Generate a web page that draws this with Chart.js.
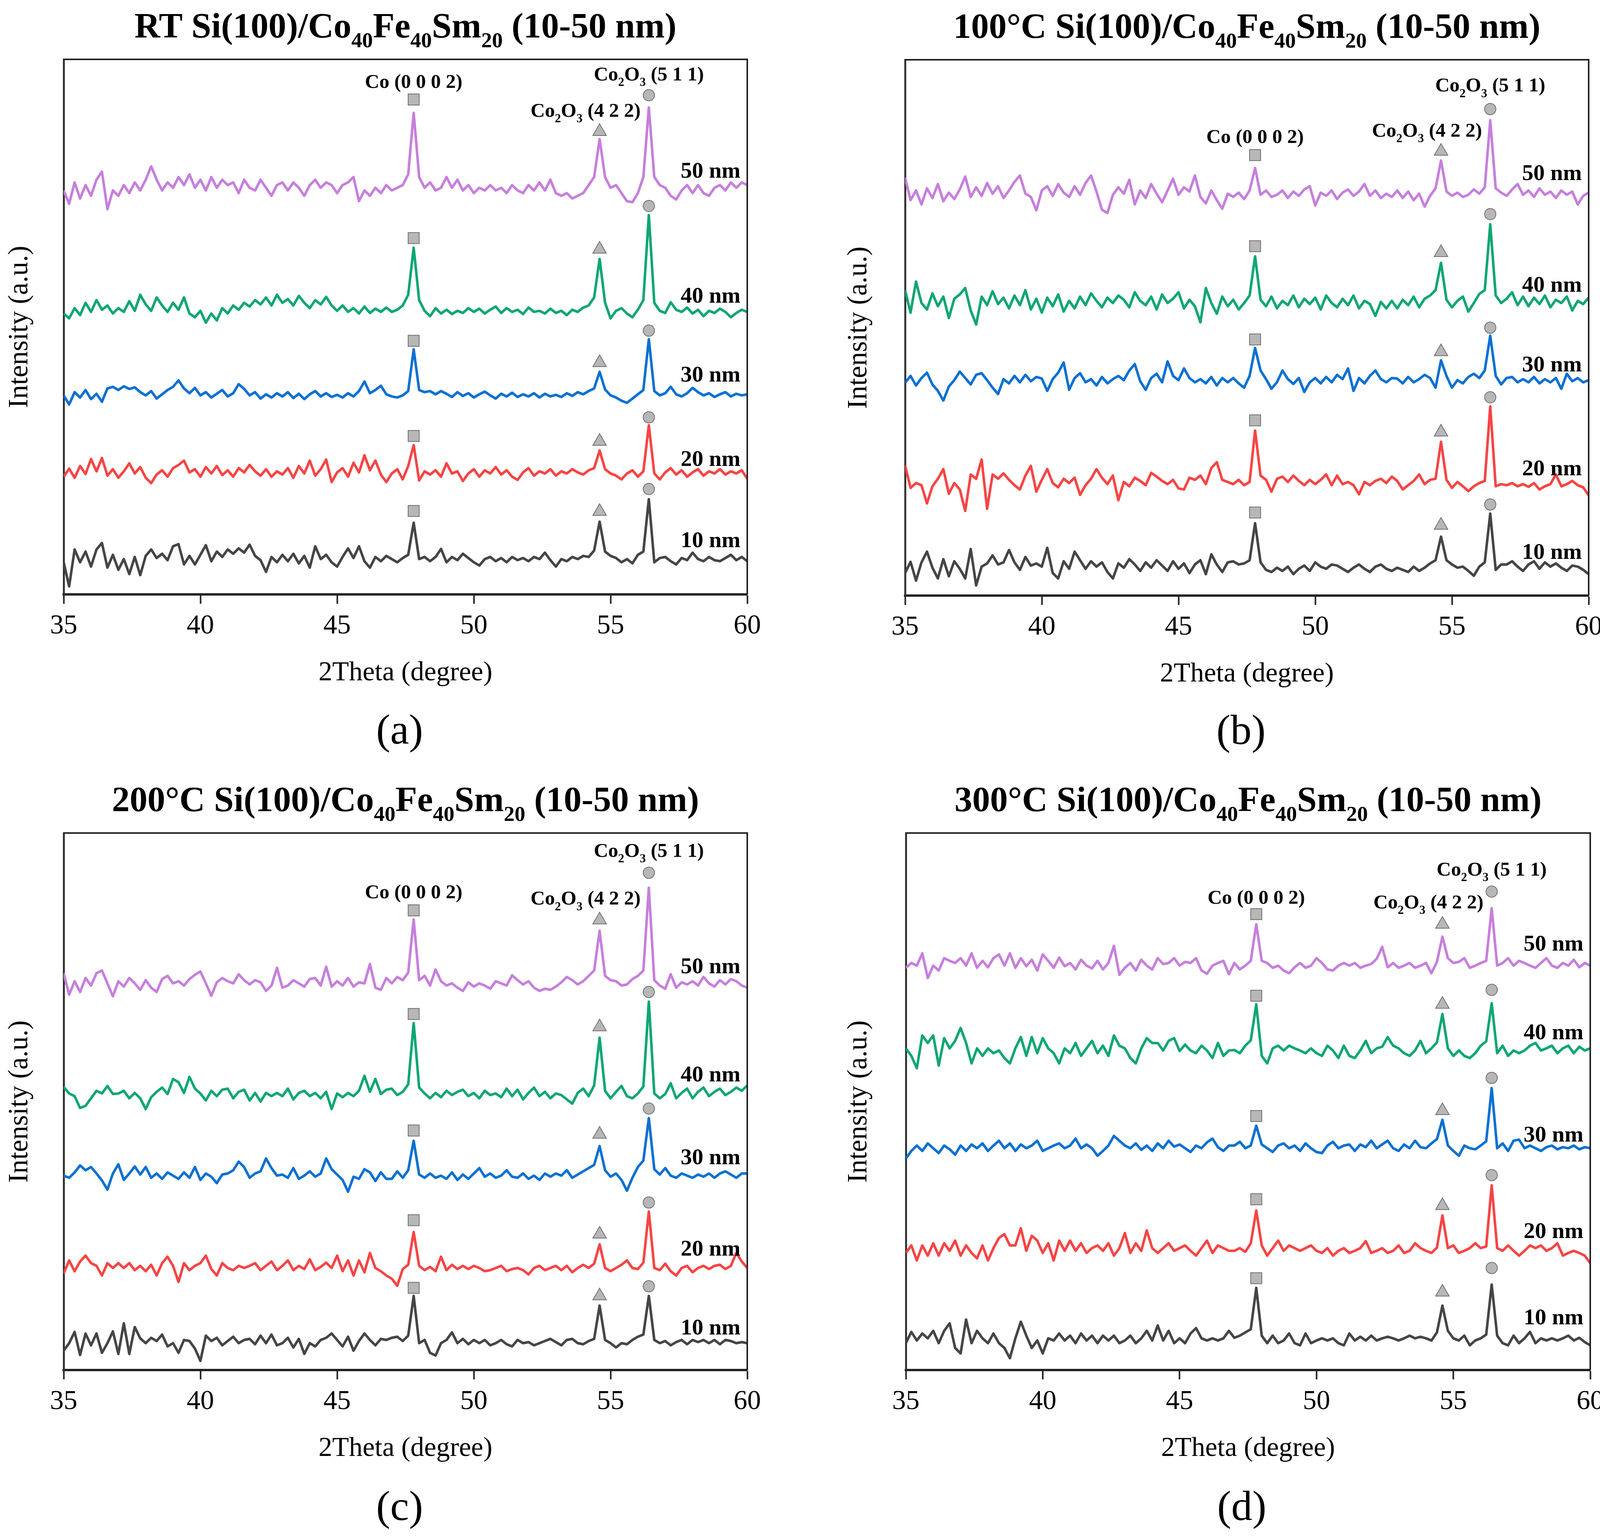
<!DOCTYPE html>
<html>
<head>
<meta charset="utf-8">
<title>XRD Si(100)/Co40Fe40Sm20</title>
<script src="https://cdn.jsdelivr.net/npm/chart.js@4.4.1/dist/chart.umd.min.js"></script>
<style>
  html, body { margin: 0; padding: 0; background: #fff; }
  #wrap { position: relative; width: 4130px; height: 3933px; background: #fff; }
  canvas { position: absolute; }
</style>
</head>
<body>
<div id="wrap">
  <canvas id="panelA"></canvas>
  <canvas id="panelB"></canvas>
  <canvas id="panelC"></canvas>
  <canvas id="panelD"></canvas>
</div>
<script>
// 2theta grid shared by every trace
const xs = [
  35,35.2,35.4,35.6,35.8,36,36.2,36.4,36.6,36.8,
  37,37.2,37.4,37.6,37.8,38,38.2,38.4,38.6,38.8,
  39,39.2,39.4,39.6,39.8,40,40.2,40.4,40.6,40.8,
  41,41.2,41.4,41.6,41.8,42,42.2,42.4,42.6,42.8,
  43,43.2,43.4,43.6,43.8,44,44.2,44.4,44.6,44.8,
  45,45.2,45.4,45.6,45.8,46,46.2,46.4,46.6,46.8,
  47,47.2,47.4,47.6,47.8,48,48.2,48.4,48.6,48.8,
  49,49.2,49.4,49.6,49.8,50,50.2,50.4,50.6,50.8,
  51,51.2,51.4,51.6,51.8,52,52.2,52.4,52.6,52.8,
  53,53.2,53.4,53.6,53.8,54,54.2,54.4,54.6,54.8,
  55,55.2,55.4,55.6,55.8,56,56.2,56.4,56.6,56.8,
  57,57.2,57.4,57.6,57.8,58,58.2,58.4,58.6,58.8,
  59,59.2,59.4,59.6,59.8,60
];

const thickness = ['50 nm', '40 nm', '30 nm', '20 nm', '10 nm'];
const seriesColors = ['#c67fdc', '#0ea672', '#0a70d2', '#f74444', '#454545'];
const peakX = [47.8, 54.6, 56.4];
const tickLabels = [35, 40, 45, 50, 55, 60];

// (a) RT
const a50 = [
  75.5,73.0,77.0,74.0,76.5,74.5,77.5,79.0,72.0,75.5,
  74.5,76.5,75.0,77.0,75.5,77.5,80.0,77.5,75.5,77.0,
  76.0,78.0,76.5,78.5,76.0,77.5,75.5,78.0,76.0,77.5,
  76.5,77.0,75.0,77.5,76.0,75.5,77.5,76.0,74.5,76.5,
  77.0,75.5,77.0,76.0,74.5,76.5,77.5,76.0,77.0,76.5,
  75.0,76.5,77.0,78.0,73.5,75.5,74.5,76.0,75.0,76.5,
  75.5,76.0,76.5,78.5,90.0,78.0,76.0,77.0,75.5,76.0,
  78.0,76.0,77.5,75.5,76.5,75.0,76.0,75.5,76.5,75.5,
  76.0,75.0,76.5,75.5,75.0,76.5,75.5,77.0,75.5,77.5,
  75.0,74.5,75.0,74.0,74.5,75.0,76.5,78.0,85.1,78.0,
  76.0,76.5,75.0,73.5,73.3,75.0,78.0,91.0,78.0,76.5,
  76.0,74.5,73.8,75.5,76.5,75.0,76.5,75.0,74.5,76.0,
  76.5,75.5,77.0,76.0,77.0,76.5
];
const a40 = [
  52.5,51.6,53.5,52.2,54.5,52.8,55.0,53.2,54.0,52.5,
  53.5,52.8,54.8,53.0,56.0,54.2,53.0,55.5,54.0,52.8,
  54.5,53.2,55.5,52.5,51.8,53.0,50.8,52.5,51.2,53.5,
  52.5,54.0,53.2,54.5,53.8,55.0,54.2,55.5,54.0,56.0,
  54.5,55.2,54.0,55.8,54.5,53.5,55.0,54.2,55.6,54.0,
  53.0,54.0,52.8,53.5,52.5,53.8,52.6,53.4,52.8,53.6,
  52.8,53.2,54.0,56.0,64.8,55.0,53.0,52.0,53.5,52.5,
  53.2,52.4,53.0,52.6,53.5,52.8,53.4,52.5,53.2,53.8,
  52.6,53.5,52.8,53.2,52.4,53.6,52.8,53.0,52.5,53.4,
  52.6,53.0,52.2,53.2,52.8,53.6,54.0,55.5,62.7,54.5,
  51.6,53.0,53.5,52.5,51.8,53.2,55.0,70.9,54.5,53.0,
  52.6,54.6,53.2,52.8,53.6,52.5,53.2,52.0,53.0,52.6,
  53.4,52.8,51.8,52.6,53.2,52.8
];
const a30 = [
  37.2,35.5,37.8,36.8,38.2,36.5,37.5,36.0,38.5,38.8,
  38.2,38.9,38.4,38.7,37.8,37.2,38.0,36.6,37.4,38.2,
  38.8,40.0,38.5,37.6,38.6,37.2,37.8,36.8,37.5,38.2,
  37.0,37.6,39.3,38.4,37.2,37.8,36.6,37.4,36.8,37.6,
  37.0,37.8,36.7,37.5,36.5,37.4,38.0,37.0,37.6,36.9,
  37.3,36.8,37.6,37.0,38.0,39.8,37.6,38.2,39.0,37.4,
  37.0,36.8,37.2,38.0,45.8,38.2,37.8,38.0,37.4,38.0,
  37.5,36.9,37.8,37.1,37.6,36.8,37.4,37.9,37.2,36.6,
  37.5,37.0,37.7,36.9,37.4,37.0,37.6,36.8,37.5,37.0,
  37.3,36.9,37.6,37.1,37.8,37.4,38.0,38.5,41.6,38.3,
  37.2,36.8,36.2,35.8,36.6,37.4,38.2,47.7,38.0,37.2,
  37.6,38.8,37.4,37.0,37.6,38.6,37.8,37.2,37.6,36.9,
  37.4,37.8,37.0,37.5,37.2,37.4
];
const a20 = [
  22.0,23.5,21.8,24.0,22.5,25.3,23.0,25.5,22.2,23.4,
  21.8,23.0,24.5,22.6,23.8,21.8,20.8,22.4,23.2,22.0,
  23.6,24.2,25.0,22.8,23.4,22.0,23.8,22.6,24.0,22.3,
  23.2,22.0,23.6,22.8,24.2,23.0,22.2,23.4,22.0,23.0,
  22.4,23.6,21.8,24.0,22.6,25.0,22.2,23.4,25.2,21.0,
  22.8,23.6,22.0,24.6,22.8,26.0,23.2,25.0,22.4,21.0,
  22.6,23.4,21.5,24.0,27.9,21.3,23.0,22.4,23.2,22.0,
  24.5,22.6,23.0,21.2,22.6,23.4,22.0,23.2,22.6,23.8,
  22.4,23.2,22.0,21.4,22.8,23.6,22.2,23.0,22.6,23.4,
  22.2,23.0,22.6,23.4,22.8,22.4,23.2,23.6,26.9,23.4,
  22.6,22.2,21.5,22.6,23.2,22.0,23.0,31.6,22.6,21.5,
  22.8,23.6,22.4,23.2,22.0,22.8,23.4,22.2,23.0,22.6,
  23.4,22.4,23.0,22.6,23.2,21.6
];
const a10 = [
  6.0,1.5,8.4,6.0,8.0,5.2,8.4,9.6,5.0,7.4,
  4.6,6.6,3.8,7.0,3.6,7.2,8.4,6.8,7.6,6.4,
  9.0,9.4,5.6,7.2,5.6,7.4,9.2,6.2,8.0,7.0,
  8.4,7.6,8.6,7.8,9.3,7.2,6.4,4.2,7.0,6.0,
  7.4,6.2,7.6,5.8,7.2,5.0,9.0,6.6,7.4,6.0,
  5.2,7.0,8.6,6.8,9.0,6.2,5.0,7.0,6.2,7.2,
  6.6,6.0,6.8,7.4,13.4,6.6,7.0,6.2,7.0,8.5,
  6.0,7.0,6.4,7.6,6.8,6.0,5.4,6.6,7.0,6.2,
  6.8,6.0,7.0,6.4,6.8,6.2,7.0,6.6,7.8,6.4,
  5.2,6.6,6.2,7.0,6.6,7.2,7.0,8.2,13.6,8.0,
  7.2,6.8,6.0,6.6,5.8,7.4,8.0,17.8,6.0,6.8,
  7.0,6.2,5.6,6.8,6.4,7.8,6.6,6.2,7.0,6.4,
  6.2,6.8,7.4,6.4,7.0,6.2
];

// (b) 100 C
const b50 = [
  78.0,73.8,75.6,73.0,76.0,74.2,76.8,73.6,75.2,74.0,
  75.8,78.2,74.4,76.2,74.6,77.0,75.0,76.4,74.2,75.6,
  77.2,78.4,75.0,74.4,71.9,75.6,76.4,74.6,76.8,75.2,
  74.4,76.4,74.8,77.0,78.4,75.4,72.0,71.4,74.8,76.2,
  75.0,77.6,73.0,75.6,74.2,76.8,75.0,73.4,75.6,77.8,
  74.8,76.2,75.4,78.4,74.4,73.2,75.6,73.8,72.2,75.0,
  74.4,75.2,74.0,75.6,79.8,74.8,75.6,74.4,74.8,75.6,
  74.2,75.4,74.6,75.8,76.4,72.8,75.2,74.6,75.6,74.0,
  75.2,75.8,74.6,75.4,76.8,74.6,75.6,74.2,75.0,74.4,
  75.6,74.2,75.4,73.8,75.0,72.6,74.6,76.0,81.2,75.4,
  74.6,75.2,74.4,74.8,75.8,75.0,76.2,88.7,76.0,75.2,
  74.6,75.8,76.8,74.8,75.6,74.4,76.0,74.8,75.4,74.2,
  75.6,74.8,75.4,73.0,74.6,75.2
];
const b40 = [
  57.0,52.8,58.6,54.6,53.4,56.4,54.0,55.8,51.8,55.4,
  56.2,57.4,53.2,50.6,55.8,54.2,56.8,54.4,55.6,53.6,
  56.0,54.2,57.0,53.4,55.4,52.8,55.6,54.0,56.2,53.0,
  55.0,53.6,55.8,54.2,56.4,55.0,53.8,55.6,54.6,56.0,
  55.2,53.8,56.6,55.0,54.2,55.8,53.4,56.2,54.6,55.4,
  56.6,53.6,55.2,54.0,51.0,57.4,54.6,52.6,55.8,54.0,
  55.2,53.4,54.6,56.0,63.3,55.2,54.0,55.8,53.6,55.0,
  54.2,56.0,53.8,55.4,54.4,55.6,53.4,56.0,54.6,53.8,
  55.4,54.2,56.0,53.6,55.0,54.4,52.2,54.8,53.6,55.0,
  53.6,55.2,54.2,55.8,53.8,55.4,56.0,57.0,62.1,55.2,
  53.8,55.0,55.8,53.0,54.6,56.3,57.0,69.3,56.0,54.6,
  55.4,56.6,54.2,55.8,54.0,55.6,54.4,56.0,53.8,55.2,
  54.6,55.8,53.2,55.0,54.4,55.6
];
const b30 = [
  39.7,41.0,39.2,40.6,41.6,39.4,38.2,36.4,39.0,40.2,
  41.8,40.6,39.4,41.2,41.5,40.2,38.8,37.6,40.4,39.6,
  41.0,39.8,41.2,40.0,40.8,40.5,38.2,40.4,41.6,43.5,
  38.4,40.6,41.5,39.8,40.4,39.2,40.8,39.6,40.4,41.0,
  40.2,42.0,43.2,40.0,38.4,40.6,41.4,39.8,43.7,41.0,
  40.2,42.4,40.6,39.8,40.4,39.6,40.8,39.2,40.6,39.8,
  40.6,39.6,38.8,41.0,46.2,42.0,40.4,38.6,39.8,42.0,
  40.4,39.5,40.6,38.0,39.8,40.6,39.6,40.8,39.8,41.2,
  40.4,42.4,38.2,40.6,39.6,41.0,42.0,40.4,39.8,40.6,
  40.5,39.6,40.8,39.8,40.4,41.2,40.6,38.8,43.9,41.0,
  38.8,40.2,39.6,40.8,41.4,40.6,42.0,48.5,41.0,39.4,
  40.6,40.8,39.8,40.4,39.8,40.8,39.6,40.4,39.8,40.6,
  38.6,41.4,40.0,40.6,39.8,40.2
];
const b20 = [
  24.3,20.1,21.0,20.6,17.2,20.4,21.8,23.6,19.0,21.0,
  19.8,15.8,22.6,21.8,25.4,16.2,22.6,21.8,22.8,21.6,
  20.6,19.8,22.4,24.2,19.4,21.6,23.6,21.0,20.2,21.8,
  21.0,22.0,18.8,20.6,21.8,23.6,22.0,20.8,22.4,17.8,
  21.2,20.4,22.0,21.4,20.6,22.9,22.2,21.4,20.8,21.6,
  20.0,19.8,22.0,21.6,22.4,20.8,23.8,24.9,21.6,21.2,
  20.8,21.6,20.6,21.2,30.8,22.4,21.6,19.4,21.8,22.2,
  21.2,22.4,21.4,20.6,21.6,20.8,21.6,22.6,20.6,22.4,
  20.8,21.2,20.6,18.9,21.2,20.6,21.4,21.8,21.0,22.2,
  21.4,19.8,20.6,21.4,22.6,20.8,21.6,21.8,28.7,21.6,
  20.1,21.2,20.4,19.5,20.4,21.0,21.4,35.3,20.4,20.8,
  20.6,21.0,20.4,20.8,20.3,21.0,19.8,20.4,20.8,22.6,
  20.4,20.8,21.4,20.6,20.2,18.7
];
const b10 = [
  4.2,6.3,2.8,6.2,8.2,5.2,3.2,6.8,3.6,6.4,
  5.0,3.2,8.7,1.9,5.4,6.0,7.5,5.8,6.2,8.5,
  6.2,4.8,7.2,5.6,6.0,5.4,8.9,4.2,3.2,6.4,
  5.0,8.2,6.6,5.0,6.4,5.4,6.2,4.4,3.2,6.0,
  5.2,6.8,5.8,4.6,6.2,5.2,6.6,5.6,4.6,6.4,
  5.0,6.0,4.2,5.8,6.6,4.0,7.7,5.8,4.4,6.2,
  6.4,5.8,6.0,6.6,13.5,6.2,4.8,4.4,5.2,4.6,
  5.4,4.0,5.0,5.6,4.6,6.2,5.4,5.0,5.8,5.6,
  5.0,4.4,5.2,5.8,5.0,4.4,5.4,5.8,5.0,4.6,
  5.2,4.8,4.4,5.4,4.6,5.2,6.0,6.6,11.0,6.6,
  5.8,5.2,5.4,4.6,3.7,5.4,6.2,15.3,4.8,5.8,
  5.8,6.4,5.4,4.6,5.8,6.4,5.0,6.2,5.4,6.0,
  5.2,4.6,5.6,5.4,4.8,4.0
];

// (c) 200 C
const c50 = [
  73.9,69.9,72.4,70.4,73.0,71.6,73.9,74.4,72.0,69.6,
  72.4,71.4,73.0,72.0,70.8,72.6,71.2,70.4,72.8,73.4,
  72.0,72.4,71.6,72.8,73.6,74.2,72.0,69.7,72.2,73.0,
  72.4,72.0,73.7,72.6,71.8,72.6,72.2,70.6,71.6,74.9,
  71.2,71.6,72.6,72.0,71.4,72.8,73.0,71.6,75.1,71.4,
  72.4,71.6,73.0,71.4,72.2,72.0,75.6,71.2,70.8,73.0,
  72.0,73.2,72.6,74.0,83.9,72.6,73.4,71.6,74.6,72.4,
  71.6,72.0,71.2,70.6,72.2,71.4,72.0,71.6,71.0,72.4,
  72.0,71.6,73.5,72.6,71.8,72.4,71.2,70.6,71.0,70.8,
  71.4,72.2,73.2,72.6,71.8,72.4,73.4,74.4,81.8,73.4,
  72.6,72.4,71.6,71.8,72.8,73.4,74.4,89.8,72.6,71.6,
  71.0,73.7,71.2,72.2,71.8,72.4,71.6,73.2,72.0,71.4,
  72.6,71.8,72.8,72.4,71.6,71.2
];
const c40 = [
  52.7,51.5,51.0,48.8,49.2,50.6,52.0,51.5,52.9,51.4,
  51.5,52.0,50.6,51.6,50.6,48.6,50.8,51.8,52.6,51.4,
  54.2,53.6,51.6,54.6,52.4,51.5,50.2,52.0,51.0,52.2,
  52.4,50.6,51.8,52.2,50.2,51.6,50.0,51.6,51.0,51.6,
  51.0,52.4,50.4,51.6,52.0,51.0,51.6,50.6,51.8,48.6,
  51.5,50.8,51.6,51.0,52.0,54.8,51.8,54.2,51.4,52.2,
  52.4,51.2,51.8,53.2,64.6,52.6,51.5,50.6,51.6,50.8,
  52.0,51.2,51.8,52.2,51.0,51.6,50.6,52.0,51.2,51.5,
  50.8,52.4,51.0,52.2,50.4,51.6,52.6,51.0,51.8,50.6,
  51.5,51.2,50.4,49.6,51.6,52.4,51.0,53.0,61.9,52.0,
  50.6,51.8,52.9,51.0,50.6,51.5,52.8,68.6,51.5,50.6,
  51.4,53.4,50.6,51.6,52.4,50.6,51.8,52.6,51.0,51.8,
  52.4,51.2,51.8,52.6,52.0,53.0
];
const c30 = [
  36.2,35.8,36.8,38.1,37.2,37.8,36.6,35.3,33.6,36.6,
  38.3,35.4,36.6,37.9,36.4,37.8,35.8,36.6,35.6,36.8,
  36.2,35.6,36.8,35.8,37.8,35.4,36.6,36.0,34.8,36.4,
  36.6,37.2,38.8,37.8,35.8,36.6,37.0,39.4,37.6,36.2,
  36.4,35.8,37.6,35.6,36.2,37.0,36.0,36.6,39.4,37.4,
  36.4,35.4,33.2,36.0,35.6,37.4,36.8,35.2,36.8,35.6,
  35.6,37.0,35.8,37.2,42.7,36.4,35.8,36.6,35.8,36.2,
  35.6,36.8,35.4,36.4,35.6,36.6,37.6,36.0,36.6,35.8,
  36.2,37.2,36.0,35.8,36.6,35.6,36.2,35.4,36.6,36.0,
  36.6,36.2,37.2,35.8,36.4,37.0,37.6,38.2,41.7,37.2,
  36.0,36.6,35.4,33.4,35.8,37.8,39.0,46.9,37.4,36.4,
  37.6,36.2,35.8,36.6,36.2,35.8,36.4,36.0,36.6,35.8,
  36.6,37.0,36.4,35.8,36.6,36.6
];
const c20 = [
  18.0,20.4,18.4,20.2,21.3,19.9,19.4,17.6,19.9,19.0,
  19.9,19.0,19.9,18.6,19.4,18.4,19.6,17.6,19.9,21.1,
  19.4,16.4,19.9,18.6,19.4,19.9,21.3,18.8,17.6,19.9,
  19.0,18.6,19.4,19.0,19.4,19.9,18.6,19.4,20.2,18.6,
  19.4,20.4,18.6,19.4,18.8,20.6,18.6,19.2,20.0,19.0,
  21.3,18.4,20.4,17.6,20.4,18.2,21.8,19.0,18.4,17.6,
  17.0,15.7,18.8,19.6,25.7,19.4,18.6,19.2,18.4,21.1,
  18.6,19.6,18.8,19.4,18.8,19.4,19.0,18.4,18.6,19.0,
  19.4,18.4,18.8,19.0,18.6,17.8,19.0,19.4,18.6,19.0,
  19.4,18.6,19.4,18.2,19.0,19.6,19.0,19.8,23.4,19.0,
  18.4,19.0,19.6,20.4,19.0,18.8,20.0,29.5,19.0,18.6,
  19.8,18.4,17.6,19.0,19.4,18.2,19.0,19.4,18.8,19.4,
  19.6,18.8,19.4,21.8,20.2,19.0
];
const c10 = [
  3.6,5.0,7.1,2.8,6.8,4.6,6.8,3.2,5.0,7.2,
  3.0,8.7,3.0,8.0,5.9,5.0,6.0,5.4,6.6,4.4,
  5.0,3.2,5.6,5.4,4.0,1.7,6.4,5.4,6.0,4.6,
  5.4,6.2,5.0,5.6,5.8,4.8,6.4,5.0,6.6,4.6,
  5.0,6.0,4.2,5.8,3.0,5.0,4.4,5.6,6.0,6.8,
  5.6,4.4,6.2,3.6,5.4,6.8,5.6,4.6,5.8,5.6,
  6.0,6.2,5.4,6.4,13.8,5.0,5.6,3.2,2.7,5.0,
  5.6,7.0,5.0,5.8,4.8,5.6,5.0,5.6,4.6,5.0,
  5.6,4.8,4.4,5.6,5.0,5.2,4.6,5.0,5.4,5.8,
  5.2,4.6,5.6,5.8,5.0,4.8,5.4,5.8,12.0,5.6,
  5.0,4.2,5.0,4.8,5.6,6.2,6.6,13.8,5.6,5.0,
  5.4,4.6,5.2,5.6,4.8,5.6,5.2,5.6,5.0,5.6,
  4.8,5.6,5.4,5.0,5.2,5.0
];

// (d) 300 C
const d50 = [
  74.9,75.8,75.3,77.6,73.0,75.3,74.4,76.7,76.2,75.8,
  76.7,75.3,77.6,74.9,76.2,75.0,76.7,77.4,75.3,77.6,
  74.9,76.7,75.2,76.4,74.4,77.4,76.2,74.9,76.8,75.2,
  75.8,74.6,76.4,75.3,74.8,76.2,74.6,75.8,79.0,73.6,
  74.9,75.8,74.4,76.4,75.3,74.6,76.7,75.6,75.8,76.7,
  75.3,76.0,75.8,76.7,74.4,73.8,75.3,75.8,76.2,73.7,
  75.8,74.6,75.3,76.2,83.0,76.2,75.8,74.9,75.3,74.4,
  73.9,75.0,75.8,74.9,75.3,76.7,75.8,74.6,74.4,75.3,
  75.8,75.3,75.8,74.9,75.3,75.6,76.6,78.8,75.0,75.8,
  74.9,75.3,75.8,74.9,75.3,75.8,73.9,76.0,80.7,76.7,
  75.8,76.0,76.7,74.9,75.3,75.8,76.2,86.0,75.3,75.8,
  76.7,75.3,76.2,75.8,75.3,74.9,75.8,76.7,75.3,74.9,
  75.8,75.3,76.4,75.0,75.8,75.3
];
const d40 = [
  59.9,58.5,56.2,62.3,60.9,62.3,56.7,61.8,59.9,61.3,
  63.7,60.9,57.1,59.9,58.5,59.9,59.0,59.5,58.1,57.1,
  59.9,62.0,58.5,62.0,59.0,61.8,59.9,59.0,57.1,59.9,
  59.0,60.9,58.5,59.9,61.3,59.0,60.4,58.5,62.3,60.4,
  59.9,58.1,57.1,59.9,61.8,60.9,60.9,59.5,61.3,61.8,
  59.4,60.6,59.5,59.0,60.4,59.5,58.1,60.9,58.5,59.5,
  59.6,59.0,60.4,61.4,68.1,58.5,57.1,59.9,60.4,59.5,
  60.4,59.9,59.5,59.0,59.9,59.0,58.5,60.4,59.5,58.1,
  60.4,58.5,58.1,59.5,61.3,59.0,59.9,60.2,62.0,60.4,
  59.9,59.0,58.5,59.5,61.3,59.0,59.9,61.0,66.3,59.9,
  58.5,59.5,58.5,58.1,59.0,60.4,61.2,68.3,59.0,60.4,
  58.5,59.5,59.0,59.5,60.4,60.9,59.5,59.9,60.4,59.0,
  59.9,60.4,59.0,60.2,59.5,59.9
];
const d30 = [
  39.4,40.8,41.8,40.8,42.2,41.3,40.4,41.8,41.1,40.1,
  41.8,40.8,42.0,41.3,42.2,40.8,41.8,42.7,41.3,42.2,
  40.8,42.0,41.3,41.8,42.7,40.8,41.3,41.8,42.2,41.3,
  41.8,43.1,41.3,42.0,41.3,39.9,40.8,41.8,43.6,42.7,
  41.8,41.3,42.2,41.0,41.8,40.8,42.2,41.3,42.7,41.6,
  42.0,41.3,40.6,41.8,41.3,42.4,43.1,41.5,40.8,41.8,
  41.8,42.5,41.3,41.8,45.5,42.0,41.3,40.6,41.8,42.2,
  41.3,41.8,40.8,42.2,41.3,40.6,40.4,41.8,42.5,41.3,
  41.8,42.0,40.8,42.0,41.5,42.7,41.3,42.0,42.7,41.3,
  40.8,42.0,41.3,42.7,41.5,41.3,42.2,43.0,46.6,41.8,
  40.8,39.9,41.8,41.3,41.1,41.8,42.6,52.5,41.3,42.2,
  40.8,42.7,42.9,41.3,41.8,41.3,40.8,41.5,41.8,41.1,
  41.5,41.3,41.8,41.1,41.5,41.3
];
const d20 = [
  21.8,23.2,20.4,23.2,21.3,23.6,21.3,23.6,22.2,24.1,
  21.3,23.2,21.8,20.8,23.2,20.4,22.7,24.6,25.3,23.2,
  23.2,26.4,22.2,25.0,24.1,21.8,23.6,20.4,24.1,22.2,
  24.1,22.2,23.6,21.8,22.7,23.2,22.2,23.6,21.3,22.7,
  25.5,21.8,23.6,22.2,26.0,22.7,21.8,22.7,23.6,22.2,
  22.7,23.2,22.2,21.3,22.7,24.1,21.8,23.2,22.7,22.2,
  22.2,22.7,22.0,23.6,29.7,23.2,21.3,22.7,24.1,22.2,
  23.2,22.7,22.2,22.7,23.2,22.2,21.8,22.7,21.3,22.2,
  22.7,21.8,22.2,22.7,24.0,21.8,22.2,22.7,21.8,22.2,
  23.2,21.8,22.2,23.6,22.7,22.2,21.8,22.8,28.8,22.7,
  23.2,21.8,22.2,22.7,23.6,22.7,23.0,34.4,22.7,22.2,
  23.2,22.2,21.3,22.2,23.2,22.7,23.2,22.2,22.7,23.6,
  21.3,21.8,22.2,21.8,21.3,19.9
];
const d10 = [
  5.0,7.1,5.5,6.8,5.9,7.3,5.0,7.3,8.7,4.1,
  3.1,9.4,5.0,7.3,5.9,5.0,6.8,5.0,4.1,2.2,
  5.9,9.0,6.4,4.1,5.5,3.1,5.9,5.5,6.8,5.5,
  6.4,5.0,6.8,5.5,6.4,5.0,6.4,5.5,6.4,5.0,
  5.5,6.4,5.0,5.9,7.3,5.5,8.3,5.5,7.3,5.0,
  5.9,5.0,6.8,7.8,5.9,5.5,5.9,5.5,5.9,7.3,
  6.0,6.4,7.0,7.6,15.3,6.4,5.0,6.4,5.0,5.5,
  6.8,5.0,4.6,6.8,5.0,5.5,5.9,5.5,5.9,5.0,
  4.6,6.8,5.5,6.2,5.5,6.4,5.5,5.9,6.2,5.9,
  5.5,5.9,6.4,5.9,6.2,5.9,5.5,7.0,12.0,7.3,
  5.9,5.5,6.4,4.6,5.5,5.9,6.6,15.9,6.4,5.0,
  4.6,6.4,5.0,5.9,7.1,5.0,5.9,5.5,5.9,5.5,
  5.9,6.4,5.5,6.0,5.2,4.6
];

// peak marker heights per trace: [square, triangle, circle]
const aMarks = [[92.5,86.5,93.3],[66.6,64.5,72.6],[47.4,43.3,49.3],[29.6,28.6,33.1],[15.6,15.5,19.7]];
const bMarks = [[82.2,82.9,90.8],[65.2,64.0,71.2],[47.8,45.5,50.0],[32.7,30.5,37.0],[15.5,13.1,17.0]];
const cMarks = [[85.6,83.8,92.6],[66.3,63.9,70.4],[44.6,43.9,48.7],[27.9,25.3,31.2],[15.3,13.8,15.6]];
const dMarks = [[84.9,83.0,89.1],[69.7,68.1,70.8],[47.3,48.3,54.4],[31.8,30.6,36.3],[17.1,14.5,19.0]];

// thickness label heights
const aLabelY = [79.3,55.9,41.2,25.4,10.2];
const bLabelY = [78.9,58.1,43.2,23.8,8.2];
const cLabelY = [75.3,55.1,39.7,22.7,8.0];
const dLabelY = [79.5,63.0,43.9,26.0,9.9];

// phase label heights: Co (0 0 0 2), Co2O3 (4 2 2), Co2O3 (5 1 1)
const aPeakLabelY = [95.9,90.5,97.3];
const bPeakLabelY = [85.7,86.9,95.3];
const cPeakLabelY = [89.1,87.9,96.8];
const dPeakLabelY = [88.1,87.2,93.3];

const FONT = '"Liberation Serif", "Times New Roman", serif';
const X_AXIS_H = 244;

Chart.defaults.font.family = FONT;
Chart.defaults.color = '#000';

const coLabel = [['Co (0 0 0 2)', 0]];
const co422Label = [['Co', 0], ['2', 1], ['O', 0], ['3', 1], [' (4 2 2)', 0]];
const co511Label = [['Co', 0], ['2', 1], ['O', 0], ['3', 1], [' (5 1 1)', 0]];

function titleParts(prefix) {
  return [[prefix + ' Si(100)/Co', 0], ['40', 1], ['Fe', 0], ['40', 1], ['Sm', 0], ['20', 1], [' (10-50 nm)', 0]];
}

// text with subscripts, y is the baseline
function drawRich(ctx, parts, x, y, align, size, bold) {
  const w = bold ? 'bold ' : '';
  const mainFont = w + size + 'px ' + FONT;
  const subFont = w + Math.round(size * 0.6) + 'px ' + FONT;
  let total = 0;
  parts.forEach(([t, s]) => {
    ctx.font = s ? subFont : mainFont;
    total += ctx.measureText(t).width;
  });
  let cx = x;
  if (align === 'center') cx = x - total / 2;
  if (align === 'right') cx = x - total;
  ctx.textAlign = 'left';
  ctx.textBaseline = 'alphabetic';
  parts.forEach(([t, s]) => {
    ctx.font = s ? subFont : mainFont;
    ctx.fillText(t, cx, s ? y + size * 0.28 : y);
    cx += ctx.measureText(t).width;
  });
}

function makeDecor(p) {
  return {
    id: 'decor_' + p.id,
    afterDraw(chart) {
      const {ctx, chartArea: ca} = chart;
      const sx = chart.scales.x, sy = chart.scales.y;
      ctx.save();
      // top and right frame lines
      ctx.strokeStyle = '#222';
      ctx.lineWidth = 4;
      ctx.beginPath();
      ctx.moveTo(ca.left, ca.top);
      ctx.lineTo(ca.right, ca.top);
      ctx.lineTo(ca.right, ca.bottom);
      ctx.stroke();

      ctx.fillStyle = '#000';
      drawRich(ctx, titleParts(p.prefix), (ca.left + ca.right) / 2, ca.top - 56, 'center', 91, true);

      const py = p.peakLabelY;
      drawRich(ctx, coLabel, sx.getPixelForValue(peakX[0]), sy.getPixelForValue(py[0]) + 17, 'center', 51, true);
      drawRich(ctx, co422Label, sx.getPixelForValue(56.1), sy.getPixelForValue(py[1]) + 17, 'right', 51, true);
      drawRich(ctx, co511Label, sx.getPixelForValue(peakX[2]), sy.getPixelForValue(py[2]) + 17, 'center', 51, true);

      p.labelY.forEach((v, i) => {
        drawRich(ctx, [[thickness[i], 0]], sx.getPixelForValue(59.75), sy.getPixelForValue(v) + 19, 'right', 58, true);
      });

      ctx.font = '108px ' + FONT;
      ctx.textAlign = 'center';
      ctx.textBaseline = 'alphabetic';
      ctx.fillText(p.caption, ca.left + 860, ca.bottom + p.capDy);

      if (p.series.some(s => s.length !== xs.length)) {
        ctx.fillStyle = 'red';
        ctx.font = 'bold 60px ' + FONT;
        ctx.fillText('LENGTH MISMATCH', ca.left + 600, ca.top + 80);
      }
      ctx.restore();
    }
  };
}

const panels = [
  {id: 'panelA', left: 0, top: 0, w: 2065, h: 1966, plotL: 163, plotR: 1913, plotT: 152, plotB: 1522, yPad: 9, capDy: 382,
   prefix: 'RT', caption: '(a)', series: [a50, a40, a30, a20, a10], marks: aMarks, labelY: aLabelY, peakLabelY: aPeakLabelY},
  {id: 'panelB', left: 2065, top: 0, w: 2065, h: 1966, plotL: 252, plotR: 2002, plotT: 153, plotB: 1525, yPad: 92, capDy: 380,
   prefix: '100°C', caption: '(b)', series: [b50, b40, b30, b20, b10], marks: bMarks, labelY: bLabelY, peakLabelY: bPeakLabelY},
  {id: 'panelC', left: 0, top: 1966, w: 2065, h: 1967, plotL: 163, plotR: 1913, plotT: 167, plotB: 1542, yPad: 9, capDy: 384,
   prefix: '200°C', caption: '(c)', series: [c50, c40, c30, c20, c10], marks: cMarks, labelY: cLabelY, peakLabelY: cPeakLabelY},
  {id: 'panelD', left: 2065, top: 1966, w: 2065, h: 1967, plotL: 254, plotR: 2006, plotT: 167, plotB: 1542, yPad: 92, capDy: 384,
   prefix: '300°C', caption: '(d)', series: [d50, d40, d30, d20, d10], marks: dMarks, labelY: dLabelY, peakLabelY: dPeakLabelY}
];

const markerStyles = [
  {style: 'rect', radius: 20},
  {style: 'triangle', radius: 20},
  {style: 'circle', radius: 14.5}
];

panels.forEach(p => {
  const canvas = document.getElementById(p.id);
  canvas.width = p.w;
  canvas.height = p.h;
  canvas.style.left = p.left + 'px';
  canvas.style.top = p.top + 'px';
  canvas.style.width = p.w + 'px';
  canvas.style.height = p.h + 'px';

  const markerSets = markerStyles.map((m, k) => ({
    label: 'marker' + k,
    data: p.marks.map(row => ({x: peakX[k], y: row[k]})),
    showLine: false,
    pointStyle: m.style,
    pointRadius: m.radius,
    pointBackgroundColor: '#b7b7b7',
    pointBorderColor: '#6f6f6f',
    pointBorderWidth: 2
  }));

  const traces = p.series.map((ys, i) => ({
    label: thickness[i],
    data: ys.map((v, j) => ({x: xs[j], y: v})),
    borderColor: seriesColors[i],
    borderWidth: 6.5,
    borderJoinStyle: 'round',
    pointRadius: 0,
    tension: 0,
    fill: false
  }));

  new Chart(canvas, {
    type: 'line',
    data: { datasets: markerSets.concat(traces) },
    options: {
      responsive: false,
      animation: false,
      devicePixelRatio: 1,
      layout: {
        padding: { left: 0, top: p.plotT, right: p.w - p.plotR, bottom: p.h - p.plotB - X_AXIS_H }
      },
      plugins: { legend: { display: false }, tooltip: { enabled: false } },
      scales: {
        x: {
          type: 'linear',
          min: 35,
          max: 60,
          afterFit: s => { s.height = X_AXIS_H; },
          afterBuildTicks: s => { s.ticks = tickLabels.map(v => ({value: v})); },
          ticks: { font: { family: FONT, size: 70 }, color: '#000', padding: 16, maxRotation: 0 },
          grid: { display: true, drawOnChartArea: false, drawTicks: true, tickLength: 24, tickWidth: 4, tickColor: '#222' },
          border: { display: true, width: 6, color: '#222' },
          title: { display: true, text: '2Theta (degree)', font: { family: FONT, size: 70 }, color: '#000', padding: 0 }
        },
        y: {
          type: 'linear',
          min: 0,
          max: 100,
          afterFit: s => { s.width = p.plotL; },
          ticks: { display: false },
          grid: { display: false },
          border: { display: true, width: 5, color: '#333' },
          title: { display: true, text: 'Intensity (a.u.)', font: { family: FONT, size: 71 }, color: '#000', padding: { top: p.yPad, bottom: 0 } }
        }
      }
    },
    plugins: [makeDecor(p)]
  });
});
</script>
</body>
</html>
